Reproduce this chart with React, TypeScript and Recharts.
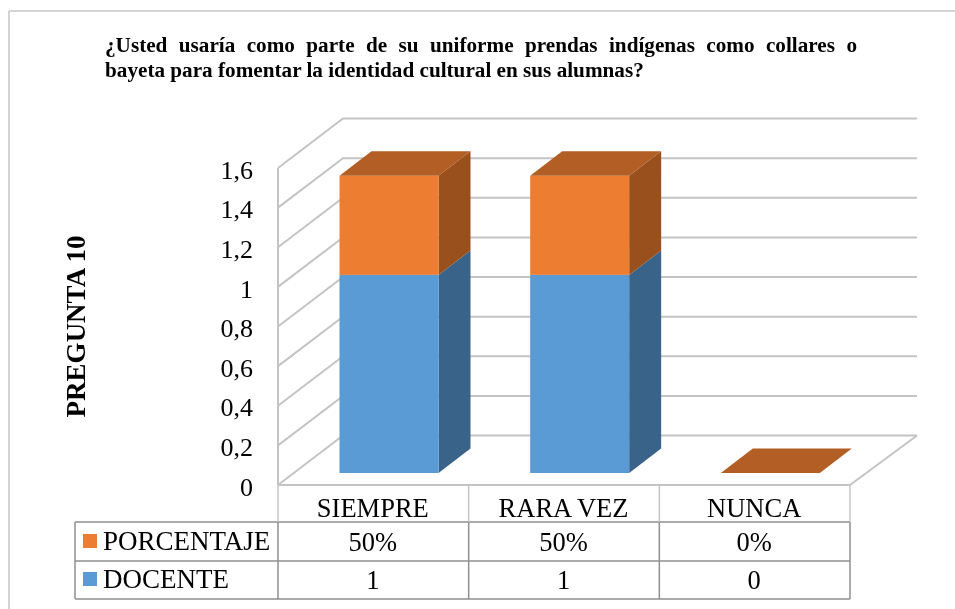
import React from 'react';
import { BarChart, Bar, XAxis, YAxis, CartesianGrid } from 'recharts';

const categories = ['SIEMPRE', 'RARA VEZ', 'NUNCA'];
const docente = [1, 1, 0];
const porcentaje = [0.5, 0.5, 0];
const porcentajeLabels = ['50%', '50%', '0%'];
const yTicks = [0, 0.2, 0.4, 0.6, 0.8, 1, 1.2, 1.4, 1.6];
const titleLines = [
  '¿Usted usaría como parte de su uniforme prendas indígenas como collares o',
  'bayeta para fomentar la identidad cultural en sus alumnas?',
];
const axisTitle = 'PREGUNTA 10';

const data = categories.map((name, i) => ({
  name,
  DOCENTE: docente[i],
  PORCENTAJE: porcentaje[i],
  label: porcentajeLabels[i],
  count: docente[i],
}));

const FONT = '"Liberation Serif", serif';
const WALL = '#c4c4c4';
const TABLE = '#8f8f8f';
const W = 955, H = 609;
const LEFT = 278, RIGHT = 850, TOP = 168, FLOOR = 485;
const WALL_DX = 65, WALL_DY = 49.5;
const BAR_DX = 32, BAR_DY = 24.5, BAR_SHIFT_X = 15.5, BAR_SHIFT_Y = 12;

const GridLine = (props: any) => {
  const { x1, x2, y1 } = props;
  const bx = x1 + WALL_DX, by = y1 - WALL_DY;
  const backEnd = x2 + WALL_DX + 2;
  const isFloor = Math.abs(y1 - FLOOR) < 1;
  return (
    <g fill="none" stroke={WALL} strokeWidth={2}>
      <polyline points={`${x1},${y1} ${bx},${by} ${backEnd},${by}`} />
      {isFloor && <polyline points={`${x2},${y1} ${backEnd},${by}`} />}
    </g>
  );
};

const Bar3D = ({ front, top, side, showTop }: any) => (props: any) => {
  const { x, y, width, height } = props;
  const l = x + BAR_SHIFT_X, r = l + width;
  const t = y - BAR_SHIFT_Y, b = t + height;
  return (
    <g>
      {height > 0 && <polygon fill={side} points={`${r},${t} ${r + BAR_DX},${t - BAR_DY} ${r + BAR_DX},${b - BAR_DY} ${r},${b}`} />}
      {height > 0 && <rect x={l} y={t} width={width} height={height} fill={front} />}
      {showTop && <polygon fill={top} points={`${l},${t} ${l + BAR_DX},${t - BAR_DY} ${r + BAR_DX},${t - BAR_DY} ${r},${t}`} />}
    </g>
  );
};

const CategoryTick = (props: any) => {
  const { x, payload, index } = props;
  const row = data[index];
  const band = (RIGHT - LEFT) / categories.length;
  const textProps = { x: x - 0.5, textAnchor: 'middle' as const, fontFamily: FONT, fontSize: 26.5, fill: '#000' };
  return (
    <g>
      <line x1={x + band / 2} x2={x + band / 2} y1={FLOOR} y2={522} stroke={WALL} strokeWidth={1.5} />
      <line x1={x + band / 2} x2={x + band / 2} y1={522} y2={599} stroke={TABLE} strokeWidth={1.5} />
      {index === 0 && <line x1={x - band / 2} x2={x - band / 2} y1={FLOOR} y2={522} stroke={WALL} strokeWidth={1.5} />}
      {index === 0 && <line x1={x - band / 2} x2={x - band / 2} y1={522} y2={599} stroke={TABLE} strokeWidth={1.5} />}
      <text {...textProps} y={517}>{payload.value}</text>
      <text {...textProps} y={551}>{row.label}</text>
      <text {...textProps} y={589}>{row.count}</text>
    </g>
  );
};

const TableFrame = () => (
  <g>
    <line x1={9} x2={W} y1={11} y2={11} stroke="#a9a9a9" />
    <line x1={9} x2={9} y1={11} y2={H} stroke="#a9a9a9" />
    <g stroke={TABLE} strokeWidth={1.5}>
      <line x1={75} x2={RIGHT} y1={522} y2={522} />
      <line x1={75} x2={RIGHT} y1={561} y2={561} />
      <line x1={75} x2={RIGHT} y1={599} y2={599} />
      <line x1={75} x2={75} y1={522} y2={599} />
    </g>
    <rect x={83} y={534} width={14} height={14} fill="#ed7d31" />
    <rect x={83} y={572} width={14} height={14} fill="#5b9bd5" />
    <text x={103} y={550} fontFamily={FONT} fontSize={27} fill="#000">PORCENTAJE</text>
    <text x={103} y={588} fontFamily={FONT} fontSize={27} fill="#000">DOCENTE</text>
  </g>
);

export default function App() {
  return (
    <div style={{ position: 'absolute', left: 0, top: 0, width: W, height: H, overflow: 'hidden', background: '#fff', filter: 'blur(0.4px)' }}>
      <BarChart
        width={W}
        height={H}
        data={data}
        barSize={99}
        margin={{ top: TOP, right: W - RIGHT, bottom: 0, left: 0 }}
      >
        <CartesianGrid vertical={false} horizontal={GridLine as any} />
        <XAxis
          dataKey="name"
          height={H - FLOOR}
          axisLine={{ stroke: WALL, strokeWidth: 2 }}
          tickLine={false}
          interval={0}
          tick={CategoryTick as any}
        />
        <YAxis
          width={LEFT}
          domain={[0, 1.6]}
          ticks={yTicks}
          interval={0}
          axisLine={{ stroke: WALL, strokeWidth: 2 }}
          tickLine={false}
          tickMargin={19}
          tick={{ fontFamily: FONT, fontSize: 26, fill: '#000', dy: 1.5 }}
          tickFormatter={(v: number) => String(v).replace('.', ',')}
          label={{
            value: axisTitle,
            angle: -90,
            position: 'insideLeft',
            offset: 0,
            dx: 75,
            dy: 0,
            style: { fontFamily: FONT, fontSize: 27, fontWeight: 700, fill: '#000', textAnchor: 'middle' },
          }}
        />
        <Bar
          dataKey="DOCENTE"
          stackId="a"
          isAnimationActive={false}
          shape={Bar3D({ front: '#5b9bd5', side: '#3a6389', top: '#3a6389', showTop: false })}
        />
        <Bar
          dataKey="PORCENTAJE"
          stackId="a"
          isAnimationActive={false}
          shape={Bar3D({ front: '#ed7d31', side: '#99501d', top: '#b25e24', showTop: true })}
        />
        <TableFrame />
      </BarChart>
      <div
        style={{
          position: 'absolute', left: 105, top: 33, width: 752,
          fontFamily: FONT, fontWeight: 700, fontSize: 21.2, lineHeight: '25px', color: '#000',
        }}
      >
        <div style={{ textAlign: 'justify', textAlignLast: 'justify' }}>{titleLines[0]}</div>
        <div>{titleLines[1]}</div>
      </div>
    </div>
  );
}
